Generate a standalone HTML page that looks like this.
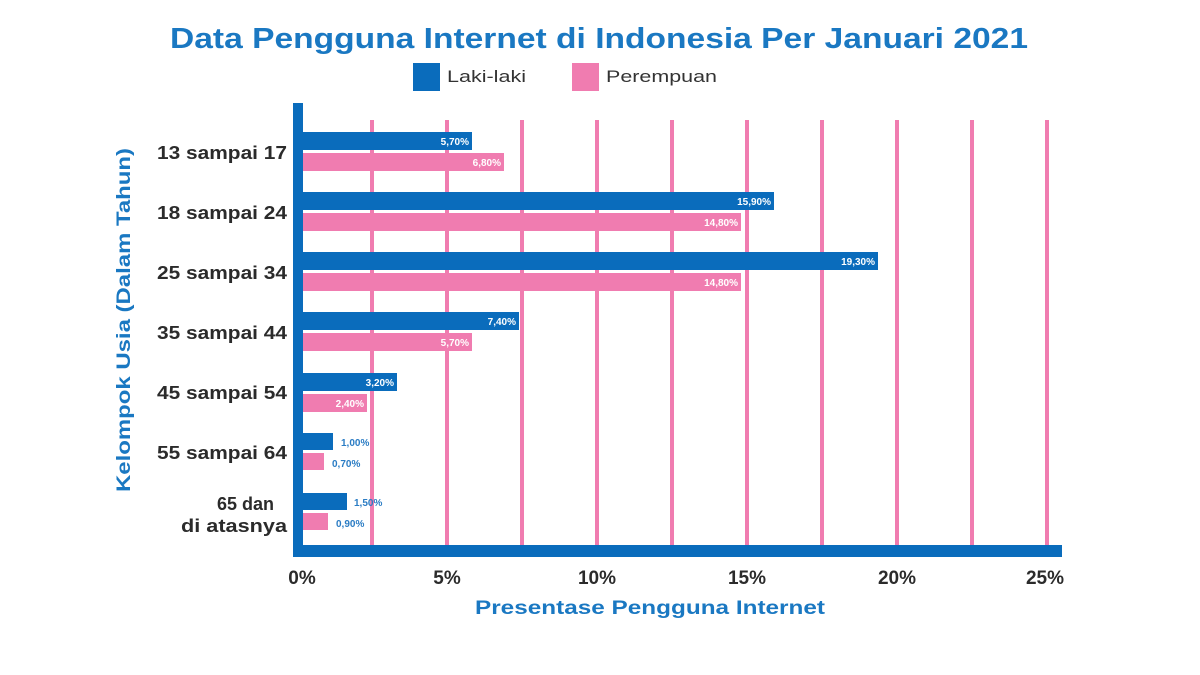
<!DOCTYPE html>
<html><head><meta charset="utf-8"><style>
html,body{margin:0;padding:0;background:#fff;}
svg{display:block;font-family:"Liberation Sans",sans-serif;}
</style></head><body>
<svg width="1200" height="675" viewBox="0 0 1200 675" xmlns="http://www.w3.org/2000/svg">
<rect width="1200" height="675" fill="#fff"/>
<text x="170" y="48" font-size="29" font-weight="bold" fill="#1a78c2" textLength="858" lengthAdjust="spacingAndGlyphs">Data Pengguna Internet di Indonesia Per Januari 2021</text>
<rect x="413" y="63" width="27" height="28" fill="#0a6cbc"/>
<text x="447" y="82" font-size="17" fill="#333" textLength="79" lengthAdjust="spacingAndGlyphs">Laki-laki</text>
<rect x="572" y="63" width="27" height="28" fill="#f07cb0"/>
<text x="606" y="82" font-size="17" fill="#333" textLength="111" lengthAdjust="spacingAndGlyphs">Perempuan</text>
<g fill="#f07cb0">
<rect x="370" y="120" width="4" height="428"/><rect x="445" y="120" width="4" height="428"/>
<rect x="520" y="120" width="4" height="428"/><rect x="595" y="120" width="4" height="428"/>
<rect x="670" y="120" width="4" height="428"/><rect x="745" y="120" width="4" height="428"/>
<rect x="820" y="120" width="4" height="428"/><rect x="895" y="120" width="4" height="428"/>
<rect x="970" y="120" width="4" height="428"/><rect x="1045" y="120" width="4" height="428"/>
</g>
<g font-size="10" font-weight="bold">
<rect x="303" y="132" width="169" height="18" fill="#0a6cbc"/><text x="469" y="145" fill="#fff" text-anchor="end">5,70%</text>
<rect x="303" y="153" width="201" height="18" fill="#f07cb0"/><text x="501" y="166" fill="#fff" text-anchor="end">6,80%</text>
<rect x="303" y="192" width="471" height="18" fill="#0a6cbc"/><text x="771" y="205" fill="#fff" text-anchor="end">15,90%</text>
<rect x="303" y="213" width="438" height="18" fill="#f07cb0"/><text x="738" y="226" fill="#fff" text-anchor="end">14,80%</text>
<rect x="303" y="252" width="575" height="18" fill="#0a6cbc"/><text x="875" y="265" fill="#fff" text-anchor="end">19,30%</text>
<rect x="303" y="273" width="438" height="18" fill="#f07cb0"/><text x="738" y="286" fill="#fff" text-anchor="end">14,80%</text>
<rect x="303" y="312" width="216" height="18" fill="#0a6cbc"/><text x="516" y="325" fill="#fff" text-anchor="end">7,40%</text>
<rect x="303" y="333" width="169" height="18" fill="#f07cb0"/><text x="469" y="346" fill="#fff" text-anchor="end">5,70%</text>
<rect x="303" y="373" width="94" height="18" fill="#0a6cbc"/><text x="394" y="386" fill="#fff" text-anchor="end">3,20%</text>
<rect x="303" y="394" width="64" height="18" fill="#f07cb0"/><text x="364" y="407" fill="#fff" text-anchor="end">2,40%</text>
<rect x="303" y="433" width="30" height="17" fill="#0a6cbc"/><text x="341" y="446" fill="#2a7cc4">1,00%</text>
<rect x="303" y="453" width="21" height="17" fill="#f07cb0"/><text x="332" y="467" fill="#2a7cc4">0,70%</text>
<rect x="303" y="493" width="44" height="17" fill="#0a6cbc"/><text x="354" y="506" fill="#2a7cc4">1,50%</text>
<rect x="303" y="513" width="25" height="17" fill="#f07cb0"/><text x="336" y="527" fill="#2a7cc4">0,90%</text>
</g>
<rect x="293" y="103" width="10" height="454" fill="#0a6cbc"/>
<rect x="293" y="545" width="769" height="12" fill="#0a6cbc"/>
<g font-size="18" font-weight="bold" fill="#2b2b2b" text-anchor="end">
<text x="287" y="159" textLength="130" lengthAdjust="spacingAndGlyphs">13 sampai 17</text>
<text x="287" y="219" textLength="130" lengthAdjust="spacingAndGlyphs">18 sampai 24</text>
<text x="287" y="279" textLength="130" lengthAdjust="spacingAndGlyphs">25 sampai 34</text>
<text x="287" y="339" textLength="130" lengthAdjust="spacingAndGlyphs">35 sampai 44</text>
<text x="287" y="399" textLength="130" lengthAdjust="spacingAndGlyphs">45 sampai 54</text>
<text x="287" y="459" textLength="130" lengthAdjust="spacingAndGlyphs">55 sampai 64</text>
<text x="274" y="510">65 dan</text>
<text x="287" y="532" textLength="106" lengthAdjust="spacingAndGlyphs">di atasnya</text>
</g>
<g font-size="19" font-weight="bold" fill="#2b2b2b" text-anchor="middle">
<text x="302" y="584">0%</text><text x="447" y="584">5%</text><text x="597" y="584">10%</text>
<text x="747" y="584">15%</text><text x="897" y="584">20%</text><text x="1045" y="584">25%</text>
</g>
<text x="650" y="614" font-size="19" font-weight="bold" fill="#1a78c2" text-anchor="middle" textLength="350" lengthAdjust="spacingAndGlyphs">Presentase Pengguna Internet</text>
<text transform="translate(130,320) rotate(-90)" font-size="19" font-weight="bold" fill="#1a78c2" text-anchor="middle" textLength="344" lengthAdjust="spacingAndGlyphs">Kelompok Usia (Dalam Tahun)</text>
</svg>
</body></html>
